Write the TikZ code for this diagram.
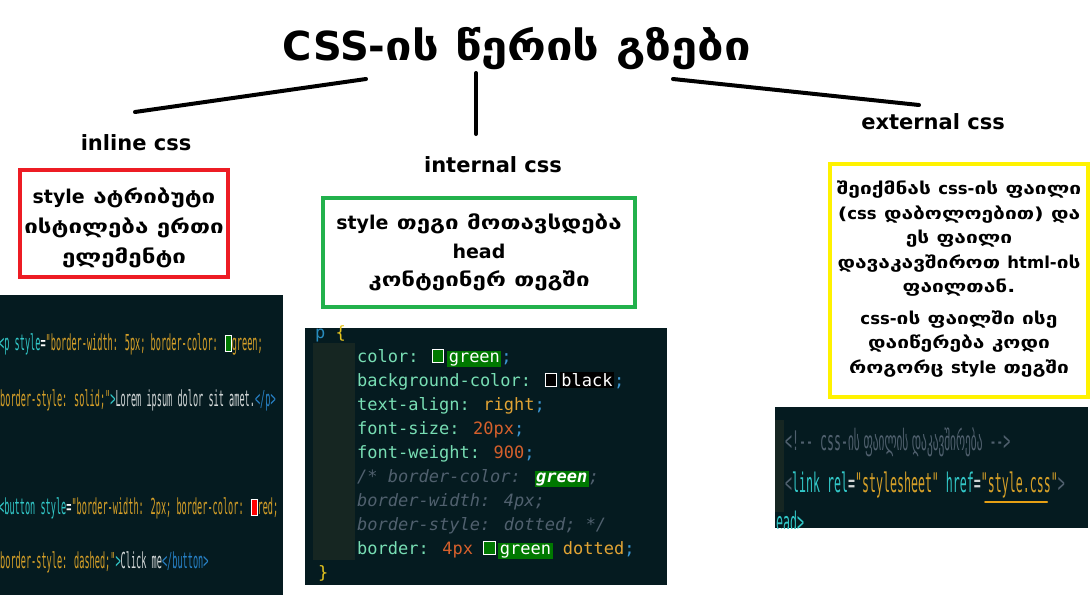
\documentclass[tikz,border=0pt]{standalone}
\usepackage{fontspec}
\setmainfont{DejaVu Sans}
\newfontfamily\geofont[FakeStretch=1.27]{DejaVu Sans}
\newfontfamily\titlegeo[FakeStretch=1.18]{DejaVu Sans}
\newfontfamily\codefont{DejaVu Sans Mono}
\newfontfamily\narrowcode[FakeStretch=0.43]{DejaVu Sans Mono}
\newfontfamily\narrowinl[FakeStretch=0.39]{DejaVu Sans Mono}
\newfontfamily\narrowgeo[FakeStretch=0.42]{DejaVu Sans}

\definecolor{codebg}{RGB}{5,27,32}
\definecolor{gutter}{RGB}{22,38,34}
\definecolor{prop}{RGB}{120,222,180}
\definecolor{punct}{RGB}{60,150,210}
\definecolor{valyel}{RGB}{226,164,52}
\definecolor{num}{RGB}{214,96,44}
\definecolor{cmt}{RGB}{80,96,110}
\definecolor{tagblue}{RGB}{40,140,190}
\definecolor{braceyel}{RGB}{230,196,30}
\definecolor{hlgreen}{RGB}{0,120,0}
\definecolor{strorange}{RGB}{214,160,40}
\definecolor{attrcyan}{RGB}{50,200,200}
\definecolor{closeblue}{RGB}{40,130,200}
\definecolor{plain}{RGB}{210,215,215}
\definecolor{cssred}{RGB}{237,28,36}
\definecolor{cssgreen}{RGB}{34,177,76}
\definecolor{cssyellow}{RGB}{255,242,0}
\definecolor{underl}{RGB}{230,160,20}

\newcommand\lat[1]{{\rmfamily #1}}
\newcommand\swatch[1]{{\fboxsep=0pt\fboxrule=1pt\fcolorbox{white}{#1}{\rule{0pt}{0.7em}\hspace{0.6em}}}}
\newcommand\hl[2]{{\fboxsep=1.5pt\colorbox{#1}{\textcolor{white}{#2}}}}
\newcommand\tallswatch[1]{{\fboxsep=0pt\fboxrule=1pt\fcolorbox{white}{#1}{\rule[-1pt]{0pt}{15pt}\hspace{5pt}}}}

\begin{document}
\begin{tikzpicture}[x=1pt,y=-1pt,line cap=round,
  branch/.style={line width=4pt,black},
  frame/.style={line width=4pt,inner sep=0pt},
  note/.style={align=center,inner sep=0pt,font=\geofont\bfseries\fontsize{19}{30}\selectfont},
  label/.style={anchor=base,inner sep=0pt,font=\bfseries\fontsize{21}{25}\selectfont},
  code/.style={anchor=base west,inner sep=0pt,font=\codefont\fontsize{17}{20}\selectfont,text=prop},
  inl/.style={anchor=base west,inner sep=0pt,font=\narrowinl\fontsize{22}{24}\selectfont,text=strorange},
  ext/.style={anchor=base west,inner sep=0pt,font=\narrowcode\fontsize{27}{30}\selectfont,text=plain}]
\useasboundingbox[fill=white] (0,0) rectangle (1091,595);

\node[anchor=base,inner sep=0pt,font=\titlegeo\bfseries\fontsize{40}{48}\selectfont] (title) at (517,60) {\lat{CSS-}ის წერის გზები};
\node[label] (inline) at (136,150) {inline css};
\node[label] (internal) at (493,172) {internal css};
\node[label] (external) at (933,129) {external css};

\coordinate (t1) at (366,79);
\coordinate (i1) at (135,112);
\coordinate (t2) at (476,73);
\coordinate (i2) at (476,134);
\coordinate (t3) at (673,79);
\coordinate (i3) at (919,105);
\draw[branch] (t1) -- (i1);
\draw[branch] (t2) -- (i2);
\draw[branch] (t3) -- (i3);

\node[frame,draw=cssred,minimum width=208pt,minimum height=107pt] (inlinebox) at (124,223.5) {};
\node[note] (inlinetext) at (124,227.5) {\lat{style} ატრიბუტი\\ისტილება ერთი\\ელემენტი};
\node[frame,draw=cssgreen,minimum width=312pt,minimum height=109pt] (internalbox) at (479,252.5) {};
\node[note,font=\geofont\bfseries\fontsize{19}{28.5}\selectfont] (internaltext) at (479,252.5)
  {\lat{style} თეგი მოთავსდება\\\lat{head}\\კონტეინერ თეგში};
\node[frame,draw=cssyellow,minimum width=258pt,minimum height=233pt] (externalbox) at (959,280.5) {};
\node[note,font=\geofont\bfseries\fontsize{16.5}{24.5}\selectfont] (externaltext) at (959,279)
  {შეიქმნას \lat{css-}ის ფაილი\\(\lat{css} დაბოლოებით) და\\ეს ფაილი\\დავაკავშიროთ \lat{html-}ის\\ფაილთან.\\[7pt]\lat{css-}ის ფაილში ისე\\დაიწერება კოდი\\როგორც \lat{style} თეგში};

% inline code
\fill[codebg] (0,295) rectangle (283,595);
\begin{scope}
\clip (0,295) rectangle (283,595);
\node[inl] (inl1) at (-1,350) {\textcolor{attrcyan}{<p style}\textcolor{white}{=}"border-width: 5px; border-color: \tallswatch{hlgreen}green;};
\node[inl] (inl2) at (0,406) {border-style: solid;"\textcolor{attrcyan}{>}\textcolor{plain}{Lorem ipsum dolor sit amet.}\textcolor{closeblue}{</p>}};
\node[inl] (inl3) at (-1,514) {\textcolor{attrcyan}{<button style}\textcolor{white}{=}"border-width: 2px; border-color: \tallswatch{red}red;};
\node[inl] (inl4) at (0,568) {border-style: dashed;"\textcolor{attrcyan}{>}\textcolor{plain}{Click me}\textcolor{closeblue}{</button>}};
\end{scope}

% internal code
\fill[codebg] (305,328) rectangle (667,585);
\fill[gutter] (313,343) rectangle (355,560);
\node[code] (int0) at (315,338) {\textcolor{tagblue}{p} \textcolor{braceyel}{\{}};
\node[code] (int1) at (357,362) {color: \swatch{hlgreen}\,\hl{hlgreen}{green}\textcolor{punct}{;}};
\node[code] (int2) at (357,386) {background-color: \swatch{black}\,\hl{black}{black}\textcolor{punct}{;}};
\node[code] (int3) at (357,410) {text-align: \textcolor{valyel}{right}\textcolor{punct}{;}};
\node[code] (int4) at (357,434) {font-size: \textcolor{num}{20px}\textcolor{punct}{;}};
\node[code] (int5) at (357,458) {font-weight: \textcolor{num}{900}\textcolor{punct}{;}};
\node[code,text=cmt] (int6) at (357,482) {\itshape /* border-color: \hl{hlgreen}{\bfseries green};};
\node[code,text=cmt] (int7) at (357,506) {\itshape border-width: 4px;};
\node[code,text=cmt] (int8) at (357,530) {\itshape border-style: dotted; */};
\node[code] (int9) at (357,554) {border: \textcolor{num}{4px} \swatch{hlgreen}\,\hl{hlgreen}{green} \textcolor{valyel}{dotted}\textcolor{punct}{;}};
\node[code] (int10) at (318,578) {\textcolor{braceyel}{\}}};

% external code
\fill[codebg] (775,407) rectangle (1088,528);
\fill[gutter] (775,420) rectangle (784,512);
\begin{scope}
\clip (775,407) rectangle (1088,528);
\node[ext,text=cmt] (ext1) at (785,450) {<!-{}- css-{\narrowgeo ის ფაილის დაკავშირება} -{}->};
\node[ext] (ext2) at (785,492) {\textcolor{cmt}{<}\textcolor{attrcyan}{link rel}=\textcolor{strorange}{"stylesheet"} \textcolor{attrcyan}{href}=\textcolor{strorange}{"style.css"}\textcolor{cmt}{>}};
\node[ext,text=attrcyan] (ext3) at (776,531) {ead>};
\end{scope}
\draw[underl,line width=2pt] (985,502) -- (1047,502);
\end{tikzpicture}
\end{document}
